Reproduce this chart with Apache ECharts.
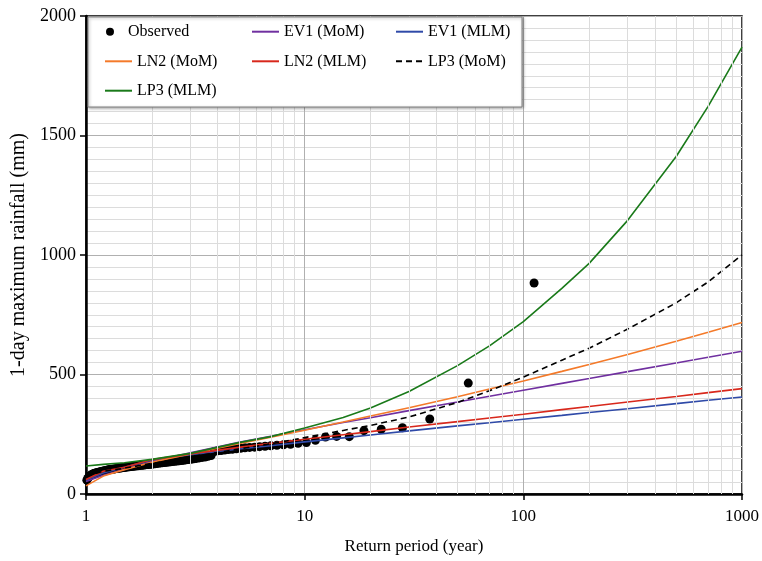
<!DOCTYPE html>
<html>
<head>
<meta charset="utf-8">
<script src="https://cdn.jsdelivr.net/npm/echarts@6/dist/echarts.min.js"></script>
<style>
html,body{margin:0;padding:0;background:#fff;}
#chart{width:762px;height:561px;}
</style>
</head>
<body>
<div id="chart"></div>
<script>
// Observed annual maxima: return period (year) and rainfall (mm)
const obsReturnPeriod = [112, 56, 37.333, 28, 22.4, 18.667, 16, 14, 12.444, 11.2, 10.182, 9.333, 8.615, 8, 7.467, 7, 6.588, 6.222, 5.895, 5.6,
  5.333, 5.091, 4.870, 4.667, 4.48, 4.308, 4.148, 4, 3.862, 3.733, 3.613, 3.5, 3.394, 3.294, 3.2, 3.111, 3.027, 2.947, 2.872, 2.8,
  2.732, 2.667, 2.605, 2.545, 2.489, 2.435, 2.383, 2.333, 2.286, 2.24, 2.196, 2.154, 2.113, 2.074, 2.036, 2, 1.965, 1.931, 1.898, 1.867,
  1.836, 1.806, 1.778, 1.75, 1.723, 1.697, 1.672, 1.647, 1.623, 1.6, 1.577, 1.556, 1.534, 1.514, 1.493, 1.474, 1.455, 1.436, 1.418, 1.4,
  1.383, 1.366, 1.349, 1.333, 1.318, 1.302, 1.287, 1.273, 1.258, 1.244, 1.231, 1.217, 1.204, 1.191, 1.179, 1.167, 1.155, 1.143, 1.131, 1.12,
  1.109, 1.098, 1.087, 1.077, 1.067, 1.057, 1.047, 1.037, 1.028, 1.018, 1.009];
const obsRainfall = [883, 464, 314, 277, 271, 265, 240, 241, 238, 225, 215, 212, 208, 206, 204, 202, 200, 198, 196, 195,
  193, 191, 189, 187, 186, 184, 182, 181, 178, 161, 158, 155, 153, 151, 149, 147, 145, 144, 143, 141,
  140, 139, 138, 137, 136, 135, 134, 133, 132, 131, 130, 129, 128, 127, 126, 125, 124, 123, 123, 122,
  121, 120, 120, 119, 118, 118, 117, 116, 116, 115, 114, 114, 113, 112, 111, 111, 110, 109, 108, 108,
  107, 106, 105, 104, 104, 103, 102, 101, 100, 99, 98, 97, 96, 95, 94, 93, 92, 91, 90, 89,
  88, 87, 86, 84, 82, 80, 77, 74, 70, 65, 58];

// Fitted distributions (values read at these return periods)
const curveT  = [1, 1.2, 1.5, 2, 3, 5, 7, 10, 15, 20, 30, 50, 70, 100, 150, 200, 300, 500, 700, 1000];
const ev1MoM  = [52, 78, 103, 137, 172, 216, 242, 269, 299, 319, 349, 385, 409, 434, 463, 483, 512, 548, 572, 597];
const ev1MLM  = [58, 88, 112, 142, 164, 188, 202, 218, 235, 247, 264, 285, 298, 313, 329, 341, 357, 378, 392, 406];
const ln2MoM  = [34, 75, 102, 133, 168, 210, 238, 267, 301, 326, 361, 407, 439, 473, 513, 542, 584, 639, 677, 718];
const ln2MLM  = [61, 95, 112, 144, 168, 195, 212, 229, 248, 261, 280, 303, 318, 334, 353, 366, 385, 408, 424, 441];
const lp3MoM  = [75, 95, 108, 128, 155, 188, 210, 236, 266, 287, 322, 383, 432, 489, 560, 610, 690, 800, 887, 1000];
const lp3MLM  = [117, 124, 131, 145, 170, 215, 240, 276, 320, 360, 429, 537, 620, 721, 860, 965, 1145, 1412, 1622, 1870];

const xTicks = [1, 10, 100, 1000];
const xMinorGrid = [2,3,4,5,6,7,8,9,20,30,40,50,60,70,80,90,200,300,400,500,600,700,800,900];

const FONT = "'Liberation Serif','Times New Roman',serif";

function pairs(xs, ys){ return xs.map((x,i)=>[x, ys[i]]); }

function lineSeries(name, ys, color, dashed){
  return {
    name: name, type: 'line', data: pairs(curveT, ys),
    showSymbol: false, symbol: 'none', smooth: false,
    lineStyle: {color: color, width: 1.6, type: dashed ? [6,4] : 'solid'},
    itemStyle: {color: color},
    z: 3, silent: true
  };
}

function legendAt(name, left, centerY, isDot){
  const l = {
    data: [name], left: left, top: centerY - 9, padding: 0,
    orient: 'horizontal', selectedMode: false,
    itemWidth: isDot ? 26 : 27, itemHeight: isDot ? 8 : 14,
    textStyle: {fontFamily: FONT, fontSize: 16, color: '#000'},
    z: 10
  };
  if (!isDot) l.itemStyle = {opacity: 0};
  return l;
}

const chart = echarts.init(document.getElementById('chart'), null, {renderer: 'canvas'});
chart.setOption({
  animation: false,
  backgroundColor: '#fff',
  grid: {left: 86, right: 20, top: 16, bottom: 67, show: true, borderColor: '#000', borderWidth: 1.5, backgroundColor: 'transparent'},
  graphic: [{
    type: 'rect', z: 8,
    shape: {x: 88, y: 17, width: 434, height: 90},
    style: {fill: '#fff', stroke: '#808080', lineWidth: 1, shadowBlur: 3, shadowColor: 'rgba(0,0,0,0.35)', shadowOffsetX: 1, shadowOffsetY: 1}
  }],
  legend: [
    legendAt('Observed', 106, 32.7, true),
    legendAt('EV1 (MoM)', 251, 32.7),
    legendAt('EV1 (MLM)', 395, 32.7),
    legendAt('LN2 (MoM)', 104, 62.3),
    legendAt('LN2 (MLM)', 251, 62.3),
    legendAt('LP3 (MoM)', 395, 62.3),
    legendAt('LP3 (MLM)', 104, 91.7)
  ],
  xAxis: {
    type: 'log', logBase: 10, min: 1, max: 1000,
    name: 'Return period (year)', nameLocation: 'middle', nameGap: 44,
    nameTextStyle: {fontFamily: FONT, fontSize: 17, color: '#000'},
    axisLine: {show: true, onZero: false, lineStyle: {color: '#000', width: 2.5}},
    axisTick: {show: true, length: 6, lineStyle: {color: '#000', width: 1.5}},
    axisLabel: {fontFamily: FONT, fontSize: 17, color: '#000', margin: 14,
      formatter: v => xTicks.indexOf(Math.round(v)) >= 0 ? String(Math.round(v)) : ''},
    splitLine: {show: true, lineStyle: {color: '#b0b0b0', width: 1}},
    minorTick: {show: false},
    minorSplitLine: {show: false}
  },
  yAxis: {
    type: 'value', min: 0, max: 2000, interval: 500,
    name: '1-day maximum rainfall (mm)', nameLocation: 'middle', nameGap: 57,
    nameTextStyle: {fontFamily: FONT, fontSize: 20, color: '#000'},
    axisLine: {show: true, lineStyle: {color: '#000', width: 2.5}},
    axisTick: {show: true, length: 6, lineStyle: {color: '#000', width: 1.5}},
    axisLabel: {fontFamily: FONT, fontSize: 18, color: '#000', margin: 10, formatter: v => String(v)},
    splitLine: {show: true, lineStyle: {color: '#b0b0b0', width: 1}},
    minorTick: {show: false, splitNumber: 10},
    minorSplitLine: {show: true, lineStyle: {color: '#dcdcdc', width: 1}}
  },
  series: [
    {
      name: 'gridHelper', type: 'line', data: [], silent: true, z: 1,
      markLine: {
        silent: true, symbol: ['none','none'], animation: false,
        label: {show: false},
        lineStyle: {color: '#dcdcdc', width: 1, type: 'solid'},
        data: xMinorGrid.map(v => ({xAxis: v}))
      }
    },
    {
      name: 'Observed', type: 'scatter', data: pairs(obsReturnPeriod, obsRainfall),
      symbol: 'circle', symbolSize: 9, itemStyle: {color: '#000', opacity: 1}, z: 2, silent: true
    },
    lineSeries('EV1 (MoM)', ev1MoM, '#7030a0', false),
    lineSeries('EV1 (MLM)', ev1MLM, '#2f4aa8', false),
    lineSeries('LN2 (MoM)', ln2MoM, '#f47a2a', false),
    lineSeries('LN2 (MLM)', ln2MLM, '#d8281c', false),
    lineSeries('LP3 (MoM)', lp3MoM, '#000000', true),
    lineSeries('LP3 (MLM)', lp3MLM, '#1a7a1a', false)
  ]
});
</script>
</body>
</html>
